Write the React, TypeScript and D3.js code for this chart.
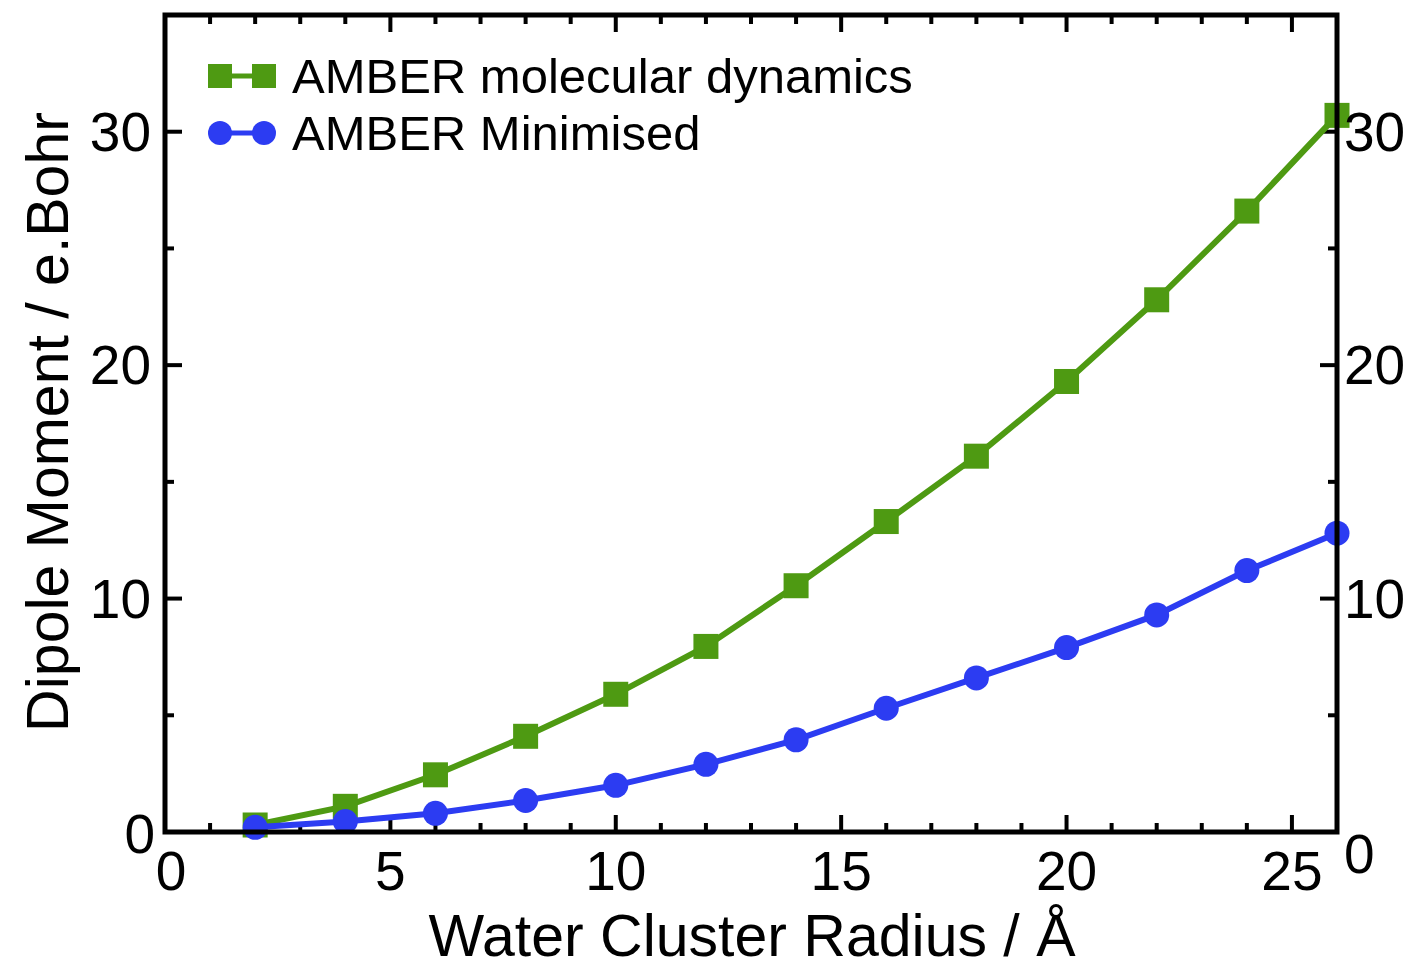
import React, { useRef, useEffect } from 'react';
import * as d3 from 'd3';

const radius = [2, 4, 6, 8, 10, 12, 14, 16, 18, 20, 22, 24, 26];
const mdDipole = [0.3, 1.1, 2.45, 4.1, 5.9, 7.95, 10.55, 13.3, 16.1, 19.3, 22.8, 26.6, 30.7];
const minDipole = [0.2, 0.45, 0.8, 1.35, 2.0, 2.9, 3.95, 5.3, 6.6, 7.9, 9.3, 11.2, 12.8];
const xTicks = [0, 5, 10, 15, 20, 25];
const yTicks = [0, 10, 20, 30];
const seriesNames = ['AMBER molecular dynamics', 'AMBER Minimised'];

export default function App() {
  const svgRef = useRef<SVGSVGElement>(null);

  useEffect(() => {
    const svg = d3.select(svgRef.current);
    svg.selectAll('*').remove();

    const left = 165, right = 1337, top = 15, bottom = 832;
    const font = 'Liberation Sans, Arial, Helvetica, sans-serif';

    const x = d3.scaleLinear().domain([0, 26]).range([left, right]);
    const y = d3.scaleLinear().domain([0, 35]).range([bottom, top]);

    const g = svg.append('g');

    // minor + major ticks, pointing inward on all four sides
    const minorX = d3.range(1, 26).filter(v => v % 5 !== 0);
    const minorY = d3.range(5, 35, 10);
    const majorY = [10, 20, 30];
    const majorX = [5, 10, 15, 20, 25];
    const tick = (x1: number, y1: number, x2: number, y2: number) =>
      g.append('line').attr('x1', x1).attr('y1', y1).attr('x2', x2).attr('y2', y2)
        .attr('stroke', '#000').attr('stroke-width', 4);

    minorX.forEach(v => { tick(x(v), bottom, x(v), bottom - 9); tick(x(v), top, x(v), top + 9); });
    majorX.forEach(v => { tick(x(v), bottom, x(v), bottom - 17); tick(x(v), top, x(v), top + 17); });
    minorY.forEach(v => { tick(left, y(v), left + 9, y(v)); tick(right, y(v), right - 9, y(v)); });
    majorY.forEach(v => { tick(left, y(v), left + 17, y(v)); tick(right, y(v), right - 17, y(v)); });

    const series = [
      { vals: mdDipole, color: '#4e9a12', shape: 'square' },
      { vals: minDipole, color: '#2c3cf2', shape: 'circle' },
    ];

    const line = d3.line<number>()
      .x((d, i) => x(radius[i]))
      .y(d => y(d));

    series.forEach(s => {
      g.append('path').datum(s.vals).attr('d', line)
        .attr('fill', 'none').attr('stroke', s.color).attr('stroke-width', 6);
      if (s.shape === 'square') {
        g.selectAll(null).data(s.vals).join('rect')
          .attr('x', (d, i) => x(radius[i]) - 12.5).attr('y', d => y(d) - 12.5)
          .attr('width', 25).attr('height', 25).attr('fill', s.color);
      } else {
        g.selectAll(null).data(s.vals).join('circle')
          .attr('cx', (d, i) => x(radius[i])).attr('cy', d => y(d))
          .attr('r', 12.5).attr('fill', s.color);
      }
    });

    // frame
    g.append('rect').attr('x', left).attr('y', top)
      .attr('width', right - left).attr('height', bottom - top)
      .attr('fill', 'none').attr('stroke', '#000').attr('stroke-width', 5);

    // tick labels
    g.selectAll(null).data(xTicks).join('text')
      .attr('x', d => x(d) + (d === 0 ? 6 : 0)).attr('y', 890)
      .attr('text-anchor', 'middle').attr('font-family', font).attr('font-size', 55)
      .text(d => d);
    g.selectAll(null).data(yTicks).join('text')
      .attr('x', d => (d === 0 ? 155 : 151)).attr('y', d => y(d) + 19 + (d === 0 ? 2 : 0))
      .attr('text-anchor', 'end').attr('font-family', font).attr('font-size', 55)
      .text(d => d);
    g.selectAll(null).data(yTicks).join('text')
      .attr('x', 1344).attr('y', d => y(d) + 19 + (d === 0 ? 22 : 0))
      .attr('text-anchor', 'start').attr('font-family', font).attr('font-size', 55)
      .text(d => d);

    // axis titles
    g.append('text').attr('x', 752).attr('y', 956)
      .attr('text-anchor', 'middle').attr('font-family', font).attr('font-size', 59)
      .text('Water Cluster Radius / Å');
    g.append('text').attr('transform', 'translate(68,422) rotate(-90)')
      .attr('text-anchor', 'middle').attr('font-family', font).attr('font-size', 59)
      .text('Dipole Moment / e.Bohr');

    // legend
    const legRows = [93, 150];
    series.forEach((s, i) => {
      const cy = legRows[i] - 17;
      g.append('line').attr('x1', 220).attr('x2', 264).attr('y1', cy).attr('y2', cy)
        .attr('stroke', s.color).attr('stroke-width', 5);
      [220, 264].forEach(cx => {
        if (s.shape === 'square') {
          g.append('rect').attr('x', cx - 12).attr('y', cy - 12).attr('width', 24).attr('height', 24).attr('fill', s.color);
        } else {
          g.append('circle').attr('cx', cx).attr('cy', cy).attr('r', 12).attr('fill', s.color);
        }
      });
      g.append('text').attr('x', 292).attr('y', legRows[i])
        .attr('font-family', font).attr('font-size', 49)
        .text(seriesNames[i]);
    });
  }, []);

  return (
    <svg ref={svgRef} width={1419} height={968}
      style={{ position: 'absolute', left: 0, top: 0, background: '#fff' }} />
  );
}
